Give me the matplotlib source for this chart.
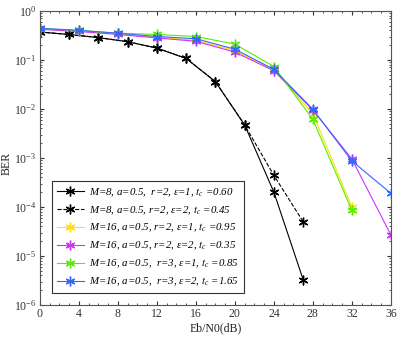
import matplotlib
matplotlib.use('Agg')
import matplotlib.pyplot as plt
from matplotlib.ticker import MultipleLocator, LogLocator, NullFormatter

plt.rcParams['font.family'] = 'Liberation Serif'
plt.rcParams['mathtext.fontset'] = 'stix'

# Dados
snr_m8 = [0, 3, 6, 9, 12, 15, 18, 21, 24, 27]
ber_m8_e1 = [0.37, 0.33, 0.285, 0.235, 0.174, 0.107, 0.036, 0.0047, 2.0e-4, 3.3e-6]
ber_m8_e2 = [0.37, 0.33, 0.285, 0.235, 0.174, 0.107, 0.036, 0.0047, 4.4e-4, 5.0e-5]

snr_m16 = [0, 4, 8, 12, 16, 20, 24, 28, 32, 36]
ber_m16_r2_e1 = [0.43, 0.39, 0.34, 0.29, 0.25, 0.155, 0.062, 0.0080, 1.0e-4]
ber_m16_r2_e2 = [0.42, 0.38, 0.33, 0.28, 0.24, 0.144, 0.060, 0.0095, 9.5e-4, 2.7e-5]
ber_m16_r3_e1 = [0.44, 0.40, 0.35, 0.33, 0.30, 0.21, 0.073, 0.0061, 8.5e-5]
ber_m16_r3_e2 = [0.44, 0.40, 0.35, 0.30, 0.27, 0.165, 0.064, 0.0098, 8.7e-4, 1.9e-4]

yticks = [1e-6, 1e-5, 1e-4, 1e-3, 1e-2, 1e-1, 1e0]

rotulos = [
    r'M=8, a=0.5,  r=2, ε=1, $t_c$ =0.60',
    r'M=8, a=0.5, r=2, ε=2, $t_c$ =0.45',
    r'M=16, a=0.5, r=2, ε=1, $t_c$ =0.95',
    r'M=16, a=0.5, r=2, ε=2, $t_c$ =0.35',
    r'M=16, a=0.5,  r=3, ε=1, $t_c$ =0.85',
    r'M=16, a=0.5,  r=3, ε=2, $t_c$ =1.65',
]

fig = plt.figure(figsize=(3.98, 3.4), dpi=100)
ax = fig.add_axes([0.1005, 0.103, 0.8815, 0.865])

estrela = (6, 2, 0)
ax.semilogy(snr_m8, ber_m8_e1, '-', color='black', marker=estrela, ms=7, lw=0.8, label=rotulos[0])
ax.semilogy(snr_m8, ber_m8_e2, '--', color='black', marker=estrela, ms=7, lw=0.8, label=rotulos[1])
ax.semilogy(snr_m16[:9], ber_m16_r2_e1, '-', color='#ffe000', marker=estrela, ms=7, lw=0.8, label=rotulos[2])
ax.semilogy(snr_m16, ber_m16_r2_e2, '-', color='#cc33ff', marker=estrela, ms=7, lw=0.8, label=rotulos[3])
ax.semilogy(snr_m16[:9], ber_m16_r3_e1, '-', color='#55ee00', marker=estrela, ms=7, lw=0.8, label=rotulos[4])
ax.semilogy(snr_m16, ber_m16_r3_e2, '-', color='#3366ff', marker=estrela, ms=7, lw=0.8, label=rotulos[5])

ax.set_xlim(0, 36)
ax.set_ylim(1e-6, 1)
ax.set_xticks(range(0, 37, 4))
ax.xaxis.set_minor_locator(MultipleLocator(1))
ax.set_yticks(yticks)
ax.yaxis.set_minor_locator(LogLocator(base=10, subs=range(2, 10), numticks=20))
ax.yaxis.set_minor_formatter(NullFormatter())
ax.tick_params(which='both', direction='in', top=True, right=True, labelsize=8.5,
               colors='#333333', pad=2.5)
ax.tick_params(which='major', length=3)
ax.tick_params(which='minor', length=1.5)
for s in ax.spines.values():
    s.set_color('#555555')
    s.set_linewidth(0.8)

ax.set_xlabel('Eb/N0(dB)', fontsize=8.5, color='#222222')
ax.set_ylabel('BER', fontsize=8.5, color='#222222')
ax.xaxis.set_label_coords(0.5, -0.058)
ax.yaxis.set_label_coords(-0.077, 0.48)

leg = ax.legend(loc='lower left', bbox_to_anchor=(0.034, 0.041), borderaxespad=0,
                prop={'style': 'italic', 'size': 7.8}, fancybox=False, framealpha=1,
                edgecolor='#333333', handlelength=2.5, handletextpad=0.5,
                borderpad=0.45, labelspacing=0.5)
leg.get_frame().set_linewidth(0.8)

plt.savefig('out.png', dpi=100)
